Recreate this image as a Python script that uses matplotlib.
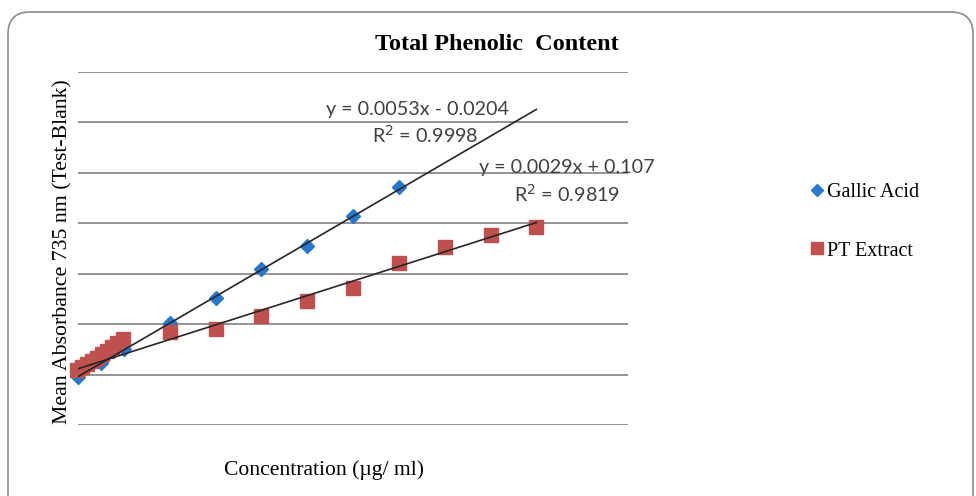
import numpy as np
import matplotlib
matplotlib.use("Agg")
import matplotlib.pyplot as plt
from matplotlib.patches import FancyBboxPatch
from matplotlib.lines import Line2D

# data (concentration in ug/ml, absorbance)
gallic_x = [40, 50, 60, 80, 100, 120, 140, 160, 180]
gallic_y = [0.19, 0.245, 0.30, 0.405, 0.504, 0.619, 0.710, 0.829, 0.944]

pt_x = [39.6, 41.7, 43.9, 46.1, 48.3, 50.5, 52.7, 54.8, 57.0, 59.7,
        80, 100, 120, 140, 160, 180, 200, 220, 240]
pt_y = [0.218, 0.230, 0.242, 0.254, 0.266, 0.282, 0.294, 0.310, 0.325, 0.341,
        0.369, 0.381, 0.433, 0.492, 0.544, 0.643, 0.706, 0.754, 0.786]

# trendline coefficients as printed on the chart
gallic_fit = [0.0053, -0.0204]
pt_fit = [0.0029, 0.107]
fit_x = [40, 240]

blue = "#2777cf"
red = "#c0504d"

fig = plt.figure(figsize=(9.76, 4.96), dpi=100)

# rounded frame around the chart
bg = fig.add_axes([0, 0, 1, 1])
bg.set_xlim(0, 976)
bg.set_ylim(496, 0)
bg.axis("off")
bg.add_patch(FancyBboxPatch((8, 12), 965, 520, boxstyle="round,pad=0,rounding_size=22",
                            fc="white", ec="#8c8c8c", lw=1.2))

ax = fig.add_axes([78/976, (496-425)/496, 550/976, 353/496])
ax.patch.set_alpha(0)
ax.set_xlim(40, 280)
ax.set_ylim(0, 1.4)
ax.set_yticks(np.arange(0, 1.41, 0.2))
ax.set_yticklabels([])
ax.set_xticks([])
ax.tick_params(length=0)
ax.grid(axis="y", color="#8a8a8a", lw=1.3)
for s in ax.spines.values():
    s.set_visible(False)

ax.plot(gallic_x, gallic_y, ls="none", marker="D", ms=7, color=blue, zorder=3, clip_on=False)
ax.plot(pt_x, pt_y, ls="none", marker="s", ms=10, color=red, zorder=4, clip_on=False)

ax.plot(fit_x, np.polyval(gallic_fit, fit_x), color="#262626", lw=1.2, zorder=5)
ax.plot(fit_x, np.polyval(pt_fit, fit_x), color="#262626", lw=1.2, zorder=5)

eq_font = dict(family="Lato", fontsize=14.2, color="#404040", ha="center", va="center")
fig.text(418/976, 1 - 110/496, "y = 0.0053x - 0.0204", **eq_font)
fig.text(425/976, 1 - 135/496, "R$^2$ = 0.9998", **eq_font)
fig.text(567/976, 1 - 168/496, "y = 0.0029x + 0.107", **eq_font)
fig.text(567/976, 1 - 194/496, "R$^2$ = 0.9819", **eq_font)

serif = "Liberation Serif"
fig.text(497/976, 1 - 44/496, "Total Phenolic  Content", family=serif, fontweight="bold",
         fontsize=17.5, ha="center", va="center")
fig.text(63/976, 1 - 252/496, "Mean Absorbance 735 nm (Test-Blank)", family=serif,
         fontsize=15.7, rotation=90, ha="center", va="center")
fig.text(324/976, 1 - 470/496, "Concentration (\u00b5g/ ml)", family=serif,
         fontsize=15.6, ha="center", va="center")

handles = [Line2D([], [], ls="none", marker="D", ms=6, color=blue),
           Line2D([], [], ls="none", marker="s", ms=8, color=red)]
fig.legend(handles, ["Gallic Acid", "PT Extract"], loc="upper left",
           bbox_to_anchor=(803/976, 1 - 175/496), frameon=False,
           prop={"family": serif, "size": 14.5}, handlelength=0.6,
           handletextpad=0.2, labelspacing=1.95, borderaxespad=0)

fig.savefig("out.png", dpi=100)
